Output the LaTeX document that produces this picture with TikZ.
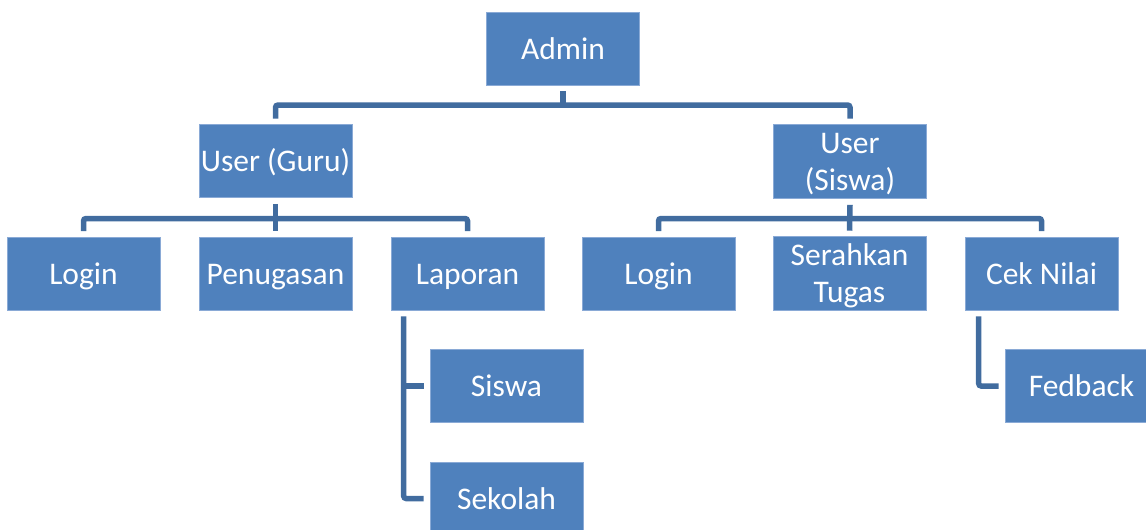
\documentclass[tikz,border=0pt]{standalone}
\usepackage{fontspec}
\setmainfont{Carlito}
\definecolor{boxfill}{HTML}{4F81BD}
\definecolor{boxedge}{HTML}{8AAAD6}
\definecolor{linkcol}{HTML}{416C9F}
% centred label, nudged down a little inside its box
\newcommand\boxlbl[1]{\raisebox{-3.2pt}[\height][\depth]{\begin{tabular}{@{}c@{}}#1\end{tabular}}}
\begin{document}
\begin{tikzpicture}[x=1pt,y=-1pt,
  box/.style={rectangle, fill=boxfill, draw=boxedge, line width=0.6pt,
    minimum width=153pt, minimum height=73pt, inner sep=0pt,
    text=white, font=\fontsize{31.5}{37}\selectfont},
  link/.style={draw=linkcol, line width=5.5pt, rounded corners=2.5pt}]
\useasboundingbox (0,0) rectangle (1146,530);
\clip (0,0) rectangle (1146,530);

% top level
\node[box] (admin) at (563,48.5) {\boxlbl{Admin}};

% users
\node[box] (guru)   at (275.5,161) {\boxlbl{User (Guru)}};
\node[box] (usiswa) at (850,161.5) {\boxlbl{User\\(Siswa)}};

% teacher branch
\node[box] (login1)  at (83.5,273.5)  {\boxlbl{Login}};
\node[box] (tugas1)  at (275.5,273.5) {\boxlbl{Penugasan}};
\node[box] (laporan) at (467.5,273.5) {\boxlbl{Laporan}};
\node[box] (lsiswa)  at (506.5,386)   {\boxlbl{Siswa}};
\node[box] (sekolah) at (506.5,498.5) {\boxlbl{Sekolah}};

% student branch
\node[box] (login2) at (658.5,273.5)  {\boxlbl{Login}};
\node[box] (serah)  at (849.5,273.5)  {\boxlbl{Serahkan\\Tugas}};
\node[box] (nilai)  at (1041.5,273.5) {\boxlbl{Cek Nilai}};
\node[box] (fedback) at (1081.5,386)  {\boxlbl{Fedback}};

% bus lines
\coordinate (bus1) at (0,105);
\coordinate (bus2) at (0,218.5);

% admin to users
\draw[link] ([yshift=-6pt]admin.south) -- (admin.south |- bus1);
\draw[link] ([yshift=5.5pt]guru.north) -- (guru.north |- bus1)
  -- (usiswa.north |- bus1) -- ([yshift=5.5pt]usiswa.north);

% guru to its children
\draw[link] ([yshift=-6pt]guru.south) -- ([yshift=5.5pt]tugas1.north);
\draw[link] ([yshift=5.5pt]login1.north) -- (login1.north |- bus2)
  -- (laporan.north |- bus2) -- ([yshift=5.5pt]laporan.north);

% siswa to its children
\draw[link] ([yshift=-6pt]usiswa.south) -- ([yshift=5.5pt]serah.north);
\draw[link] ([yshift=5.5pt]login2.north) -- (login2.north |- bus2)
  -- (nilai.north |- bus2) -- ([yshift=5.5pt]nilai.north);

% laporan sub-items
\coordinate (lrail) at ([xshift=13pt]laporan.west);
\draw[link] ([yshift=-6pt]laporan.south -| lrail) -- (lrail |- sekolah.west)
  -- ([xshift=-6pt]sekolah.west);
\draw[link, rounded corners=0pt] (lrail |- lsiswa.west) -- ([xshift=-6pt]lsiswa.west);

% cek nilai sub-item
\coordinate (nrail) at ([xshift=14pt]nilai.west);
\draw[link] ([yshift=-6pt]nilai.south -| nrail) -- (nrail |- fedback.west)
  -- ([xshift=-6pt]fedback.west);
\end{tikzpicture}
\end{document}
